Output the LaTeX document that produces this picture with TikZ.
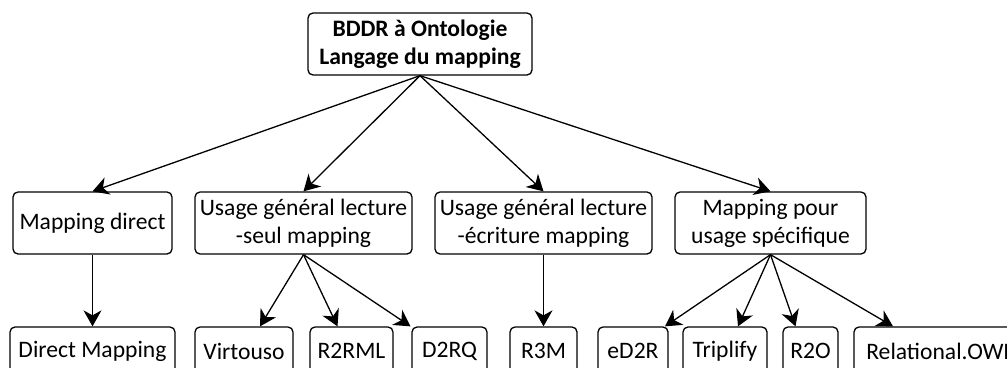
\documentclass[tikz,border=0pt]{standalone}
\usepackage{fontspec}
\setmainfont{Carlito}
\usetikzlibrary{arrows.meta}
\begin{document}
\begin{tikzpicture}[x=1pt,y=-1pt,
  box/.style={draw=black,line width=1.3pt,rounded corners=5pt,inner sep=0pt,align=center,
    font=\fontsize{23.6}{28}\selectfont},
  midbox/.style={box,minimum height=62pt},
  leaf/.style={box,minimum height=48pt},
  arr/.style={line width=1.3pt,-{Stealth[length=16pt,width=18pt,inset=5pt]}}]
\useasboundingbox (0,0) rectangle (1007,367);
\clip (0,0) rectangle (1007,367);
\node[box,minimum width=224pt,minimum height=62pt,font=\fontsize{23.6}{28}\selectfont\bfseries] (top) at (420,44) {BDDR à Ontologie\\Langage du mapping};
\node[midbox,minimum width=159pt] (md) at (92.5,223) {Mapping direct};
\node[midbox,minimum width=217pt] (ls) at (303.5,223) {Usage général lecture\\-seul mapping};
\node[midbox,minimum width=217pt] (le) at (543.5,223) {Usage général lecture\\-écriture mapping};
\node[midbox,minimum width=191pt] (sp) at (770.5,223) {Mapping pour\\usage spécifique};
\node[leaf,minimum width=165pt] (dm) at (92.5,351) {Direct Mapping};
\node[leaf,minimum width=98pt] (vi) at (244,351) {Virtouso};
\node[leaf,minimum width=83pt] (r2) at (351.5,351) {R2RML};
\node[leaf,minimum width=75pt] (d2) at (449.5,351) {D2RQ};
\node[leaf,minimum width=67pt] (r3) at (543.5,351) {R3M};
\node[leaf,minimum width=70pt] (ed) at (633,351) {eD2R};
\node[leaf,minimum width=84pt] (tr) at (725,351) {Triplify};
\node[leaf,minimum width=55pt] (ro) at (810.5,351) {R2O};
\node[leaf,minimum width=172pt] (ow) at (940,351) {Relational.OWL};
\draw[arr] (top.south) -- (md.north);
\draw[arr] (top.south) -- (ls.north);
\draw[arr] (top.south) -- (le.north);
\draw[arr] (top.south) -- (sp.north);
\draw[arr] (md.south) -- (dm.north);
\draw[arr] (ls.south) -- ([xshift=16pt]vi.north);
\draw[arr] (ls.south) -- ([xshift=-14pt]r2.north);
\draw[arr] (ls.south) -- ([xshift=-39pt]d2.north);
\draw[arr] (le.south) -- (r3.north);
\draw[arr] (sp.south) -- ([xshift=32pt]ed.north);
\draw[arr] (sp.south) -- ([xshift=13pt]tr.north);
\draw[arr] (sp.south) -- ([xshift=-15pt]ro.north);
\draw[arr] (sp.south) -- ([xshift=-47pt]ow.north);
\end{tikzpicture}
\end{document}
